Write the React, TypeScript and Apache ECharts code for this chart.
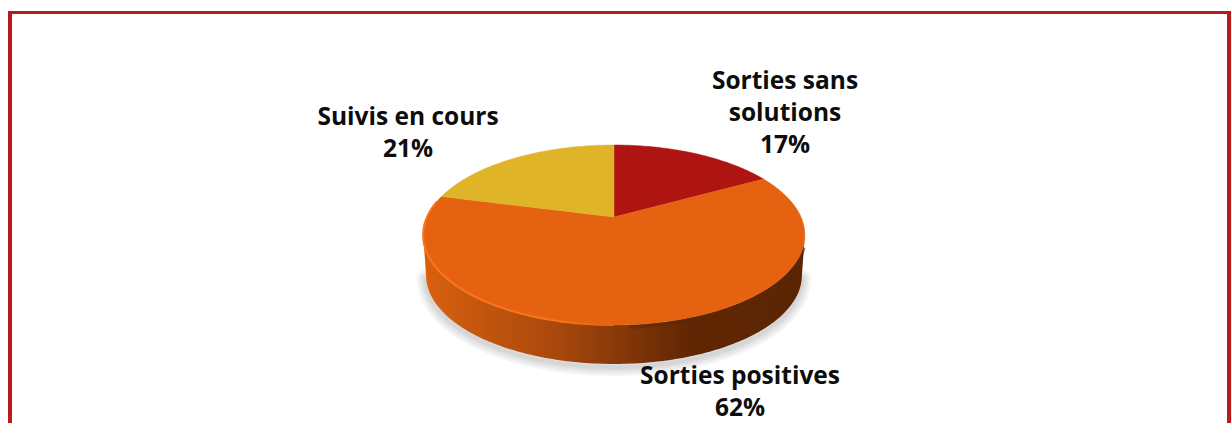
import React, { useEffect, useRef } from "react";
import * as echarts from "echarts";

const categories = ["Sorties sans solutions", "Sorties positives", "Suivis en cours"];
const shares = [17, 62, 21];
const sliceColors = ["#ae1411", "#e56210", "#e0b428"];
const labelLines = [["Sorties sans", "solutions", "17%"], ["Sorties positives", "62%"], ["Suivis en cours", "21%"]];
const labelAnchors = [[785, 111], [740, 390], [408, 131]];

const CX = 614, CY = 217, A = 187, B = 86.4, K = 0.2, DEPTH = 41;

function project(theta: number, r = 1): [number, number] {
  const u = Math.sin(theta) * r, v = Math.cos(theta) * r;
  const w = 1 + K * v;
  return [CX + (A * u) / w, CY - (B * v) / w];
}
function arcPoints(a0: number, a1: number, r = 1): [number, number][] {
  const n = Math.max(2, Math.ceil(Math.abs(a1 - a0) * 60));
  const out: [number, number][] = [];
  for (let i = 0; i <= n; i++) out.push(project(a0 + ((a1 - a0) * i) / n, r));
  return out;
}
const shift = (pts: [number, number][], dx: number, dy: number) => pts.map(([x, y]) => [x + dx, y + dy] as [number, number]);

function buildOption() {
  const total = shares.reduce((s, v) => s + v, 0);
  let acc = 0;
  const slices = shares.map((v, i) => {
    const a0 = (acc / total) * Math.PI * 2;
    acc += v;
    return { name: categories[i], value: v, angles: [a0, (acc / total) * Math.PI * 2] };
  });
  const extreme = Math.PI - Math.acos(K);
  const front = arcPoints(extreme, Math.PI * 2 - extreme);
  const frontLow = shift(arcPoints(extreme, Math.PI * 2 - extreme, 0.985), 0, DEPTH);
  const wall = [...front, ...[...frontLow].reverse()];

  const renderItem = (params: any) => {
    const i = params.dataIndex;
    const [a0, a1] = slices[i].angles;
    const pts = [[CX, CY] as [number, number], ...arcPoints(a0, a1)];
    return {
      type: "polygon",
      shape: { points: pts },
      style: { fill: sliceColors[i], stroke: sliceColors[i], lineWidth: 0.5 },
      z2: 10,
    };
  };

  const borderColor = "#b71c1a";
  return {
    animation: false,
    backgroundColor: "#ffffff",
    graphic: [
      { type: "rect", silent: true, z: 0, shape: { x: 8, y: 11, width: 1223, height: 3 }, style: { fill: borderColor } },
      { type: "rect", silent: true, z: 0, shape: { x: 8, y: 11, width: 4, height: 412 }, style: { fill: borderColor } },
      { type: "rect", silent: true, z: 0, shape: { x: 1227, y: 11, width: 4, height: 412 }, style: { fill: borderColor } },
      ...[18, 13, 8, 4].map((w) => ({
        type: "polyline", silent: true, z: 1,
        shape: { points: shift(frontLow, 0, 3) },
        style: { fill: "none", stroke: "rgba(110,110,110,0.08)", lineWidth: w, lineCap: "round" },
      })),
      {
        type: "polygon", silent: true, z: 2,
        shape: { points: wall },
        style: {
          fill: new echarts.graphic.LinearGradient(0, 0, 1, 0, [
            { offset: 0, color: "#d9600f" },
            { offset: 0.35, color: "#a8480c" },
            { offset: 0.7, color: "#612604" },
            { offset: 1, color: "#5a2503" },
          ]),
        },
      },
      {
        type: "polyline", silent: true, z: 20,
        shape: { points: arcPoints(Math.PI * 1.0, Math.PI * 1.56) },
        style: {
          fill: "none", lineWidth: 2,
          stroke: new echarts.graphic.LinearGradient(0, 0, 1, 0, [
            { offset: 0, color: "#f9761a" },
            { offset: 0.7, color: "#f9761a" },
            { offset: 1, color: "#e56210" },
          ]),
        },
      },
      {
        type: "polyline", silent: true, z: 3,
        shape: { points: shift(arcPoints(Math.PI * 0.6, Math.PI * 0.98), 0, 2) },
        style: { fill: "none", stroke: "rgba(90,40,5,0.55)", lineWidth: 4 },
      },
      ...labelLines.map((lines, i) => ({
        type: "text", silent: true, z: 30,
        x: labelAnchors[i][0], y: labelAnchors[i][1],
        style: {
          text: lines.join("\n"),
          align: "center", verticalAlign: "middle",
          font: 'bold 24.5px "Open Sans"', lineHeight: 32, fill: "#0d0d0d",
        },
      })),
    ],
    series: [
      {
        type: "custom",
        coordinateSystem: "none",
        renderItem,
        data: slices.map((s) => s.value),
        silent: true,
        z: 5,
      },
    ],
  };
}

export default function App() {
  const ref = useRef<HTMLDivElement>(null);
  useEffect(() => {
    const chart = echarts.init(ref.current!, undefined, { renderer: "svg" });
    chart.setOption(buildOption() as any);
    return () => chart.dispose();
  }, []);
  return <div ref={ref} style={{ position: "fixed", left: 0, top: 0, width: 1231, height: 423 }} />;
}
